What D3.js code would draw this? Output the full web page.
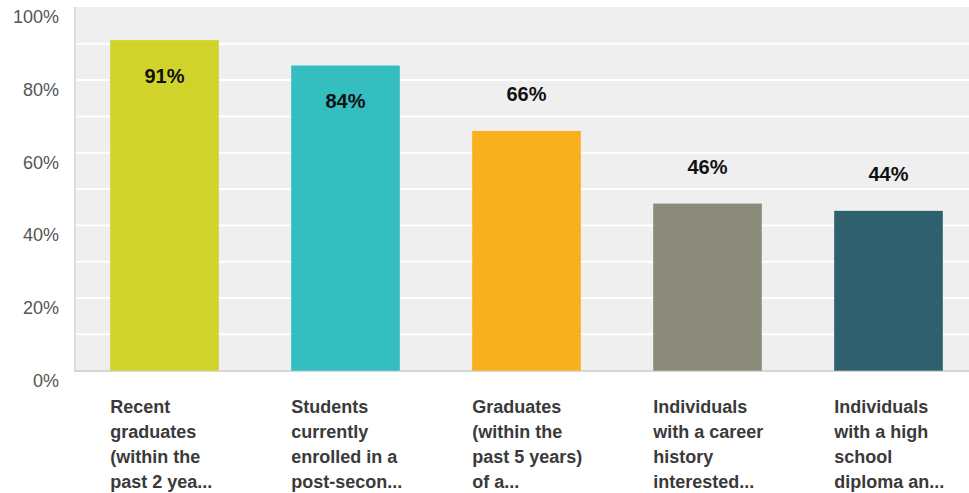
<!DOCTYPE html>
<html>
<head>
<meta charset="utf-8">
<script src="https://cdn.jsdelivr.net/npm/d3@7"></script>
<style>
  html, body { margin: 0; padding: 0; background: #ffffff; }
  svg { display: block; }
</style>
</head>
<body>
<svg id="chart" width="969" height="493"></svg>
<script>
// Survey responses, one bar per group
const categories = [
  ["Recent", "graduates", "(within the", "past 2 yea..."],
  ["Students", "currently", "enrolled in a", "post-secon..."],
  ["Graduates", "(within the", "past 5 years)", "of a..."],
  ["Individuals", "with a career", "history", "interested..."],
  ["Individuals", "with a high", "school", "diploma an..."]
];
const values = [91, 84, 66, 46, 44];
const barColors = ["#d0d42a", "#34bec0", "#f8b01f", "#8a8b7a", "#2f606d"];
const yTicks = [0, 20, 40, 60, 80, 100];
const gridTicks = [10, 20, 30, 40, 50, 60, 70, 80, 90];

const W = 969, H = 493;
const plot = { left: 74, right: 969, top: 7, bottom: 371 };

const svg = d3.select("#chart");

const x = d3.scaleBand()
  .domain(d3.range(values.length))
  .range([74, 979])
  .paddingInner(0.4)
  .paddingOuter(0.2);

const y = d3.scaleLinear()
  .domain([0, 100])
  .range([370.7, 7.4]);

// plot background
svg.append("rect")
  .attr("x", plot.left)
  .attr("y", plot.top)
  .attr("width", plot.right - plot.left)
  .attr("height", plot.bottom - plot.top)
  .attr("fill", "#efefef");

// horizontal gridlines
svg.append("g")
  .selectAll("line")
  .data(gridTicks)
  .join("line")
  .attr("x1", plot.left + 2)
  .attr("x2", plot.right)
  .attr("y1", d => y(d))
  .attr("y2", d => y(d))
  .attr("stroke", "#ffffff")
  .attr("stroke-width", 2);

// left and bottom frame
svg.append("line")
  .attr("x1", plot.left + 1).attr("x2", plot.left + 1)
  .attr("y1", plot.top).attr("y2", plot.bottom)
  .attr("stroke", "#dcdcdc").attr("stroke-width", 2);
svg.append("line")
  .attr("x1", plot.left).attr("x2", plot.right)
  .attr("y1", plot.bottom).attr("y2", plot.bottom)
  .attr("stroke", "#d6d6d6").attr("stroke-width", 2);

// y axis labels
const yAxis = d3.axisLeft(y)
  .tickValues(yTicks)
  .tickFormat(d => d + "%")
  .tickSize(0)
  .tickPadding(0);
const yg = svg.append("g")
  .attr("transform", "translate(59,0)")
  .call(yAxis);
yg.select(".domain").remove();
yg.selectAll("text")
  .attr("dy", null)
  .attr("y", 15.5)
  .attr("font-family", "'Liberation Sans', Arial, sans-serif")
  .attr("font-size", 18)
  .attr("fill", "#555555");

// bars
svg.append("g")
  .selectAll("rect")
  .data(values)
  .join("rect")
  .attr("x", (d, i) => x(i))
  .attr("y", d => y(d))
  .attr("width", x.bandwidth())
  .attr("height", d => y(0) - y(d))
  .attr("fill", (d, i) => barColors[i]);

// value labels: inside tall bars, above the others
svg.append("g")
  .selectAll("text")
  .data(values)
  .join("text")
  .attr("x", (d, i) => x(i) + x.bandwidth() / 2)
  .attr("y", d => d > 75 ? y(d) + 42.5 : y(d) - 30)
  .attr("text-anchor", "middle")
  .attr("font-family", "'Liberation Sans', Arial, sans-serif")
  .attr("font-weight", "bold")
  .attr("font-size", 20)
  .attr("fill", "#111111")
  .text(d => d + "%");

// category labels, left-aligned under each bar
const cat = svg.append("g")
  .selectAll("text")
  .data(categories)
  .join("text")
  .attr("x", (d, i) => x(i))
  .attr("y", 413)
  .attr("font-family", "'Liberation Sans', Arial, sans-serif")
  .attr("font-weight", "bold")
  .attr("font-size", 18)
  .attr("fill", "#3a3a3a");
cat.selectAll("tspan")
  .data((d, i) => d.map(t => ({ t, i })))
  .join("tspan")
  .attr("x", d => x(d.i))
  .attr("dy", (d, j) => j === 0 ? 0 : 25)
  .text(d => d.t);
</script>
</body>
</html>
